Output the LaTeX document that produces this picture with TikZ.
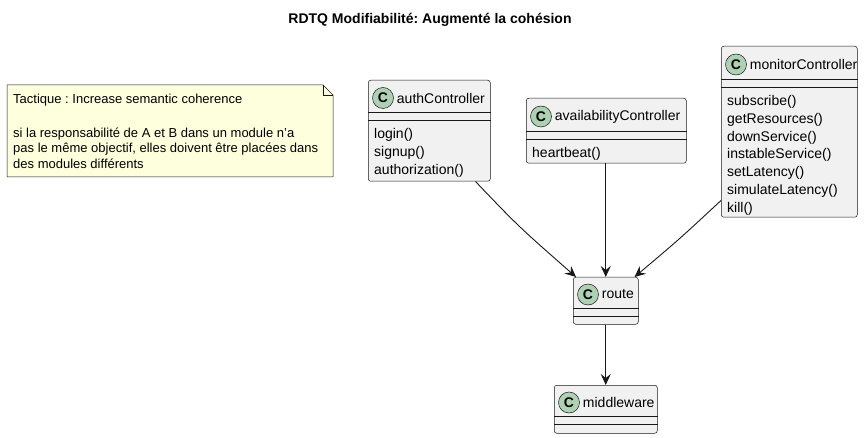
\documentclass[tikz,border=0pt]{standalone}
\usepackage{fontspec}
\setmainfont{Liberation Sans}
\usetikzlibrary{positioning,calc,arrows.meta}
\definecolor{classfill}{HTML}{F1F1F1}
\definecolor{linegray}{HTML}{181818}
\definecolor{notefill}{HTML}{FEFFDD}
\definecolor{spotgreen}{HTML}{ADD1B2}
\frenchspacing

\tikzset{
  classbox/.style={draw=linegray, fill=classfill, line width=0.5pt, rounded corners=2.5pt, anchor=north west, inner sep=0pt},
  sepline/.style={draw=linegray, line width=0.5pt},
  spot/.style={circle, draw=linegray, fill=spotgreen, line width=0.5pt, minimum size=21pt, inner sep=0pt, font=\fontsize{14}{14}\selectfont\bfseries},
  cname/.style={anchor=west, inner sep=0pt, font=\fontsize{14}{16}\selectfont},
  meth/.style={anchor=base west, inner sep=0pt, font=\fontsize{14}{16}\selectfont},
  notetext/.style={anchor=base west, inner sep=0pt, align=left, font=\fontsize{13}{15.5}\selectfont},
  link/.style={draw=linegray, line width=0.9pt, -{Stealth[length=11pt,width=10pt,inset=4pt]}},
}

% class: name, x, y, width, height, header, label
\newcommand{\umlclass}[7]{%
  \node[classbox, minimum width=#4pt, minimum height=#5pt] (#1) at (#2,#3) {};
  \draw[sepline] ($(#1.north west)+(0,#6)$) -- ($(#1.north east)+(0,#6)$);
  \draw[sepline] ($(#1.north west)+(0,#6+8)$) -- ($(#1.north east)+(0,#6+8)$);
  \node[spot] (#1spot) at ($(#1.north west)+(15,#6/2+2)$) {C};
  \node[cname, right=3pt of #1spot] (#1name) {#7};
}
% methods: name, header, list
\newcommand{\umlmethods}[3]{%
  \foreach \m [count=\i] in {#3}
    \node[meth] (#1m\i) at ($(#1.north west)+(6,{#2+8+18.5+(\i-1)*17.8})$) {\m};
}

\begin{document}
\begin{tikzpicture}[x=1pt,y=-1pt]
\useasboundingbox (0,0) rectangle (867,438);

\node[font=\fontsize{14}{16}\selectfont\bfseries] (title) at (430,20) {RDTQ Modifiabilité: Augmenté la cohésion};

% note
\coordinate (nw) at (7,85);
\coordinate (se) at (333,177);
\draw[draw=linegray, fill=notefill, line width=0.5pt] (nw) -- ($(nw-|se)+(-10,0)$) -- ($(nw-|se)+(0,10)$) -- (se) -- (se-|nw) -- cycle;
\draw[draw=linegray, line width=0.5pt] ($(nw-|se)+(-10,0)$) -- ($(nw-|se)+(-10,10)$) -- ($(nw-|se)+(0,10)$);
\node[notetext] (tactic) at (13,104) {Tactique : Increase semantic coherence};
\node[notetext] (rule) at (13,168.5) {si la responsabilité de A et B dans un module n'a\\pas le même objectif, elles doivent être placées dans\\des modules différents};

% classes
\umlclass{auth}{368}{80}{122}{101}{32}{authController}
\umlmethods{auth}{32}{login(),signup(),authorization()}
\umlclass{avail}{526}{98}{160}{65}{33}{availabilityController}
\umlmethods{avail}{33}{heartbeat()}
\umlclass{monitor}{721}{46}{136}{171}{33}{monitorController}
\umlmethods{monitor}{33}{subscribe(),getResources(),downService(),instableService(),setLatency(),simulateLatency(),kill()}
\umlclass{route}{573}{277}{65}{47}{31}{route}
\umlclass{mw}{554}{385}{103}{48}{31}{middleware}

% links
\draw[link] ($(auth.south east)+(-15,0)$) .. controls ($(auth.south east)+(28,45)$) .. ($(route.north west)+(3,0)$);
\draw[link] (avail.south-|route.north) -- (route.north);
\draw[link] ($(monitor.south west)+(0,-17)$) .. controls ($(monitor.south west)+(-42,22)$) .. ($(route.north east)+(-4,0)$);
\draw[link] (route.south) -- (mw.north);
\end{tikzpicture}
\end{document}
